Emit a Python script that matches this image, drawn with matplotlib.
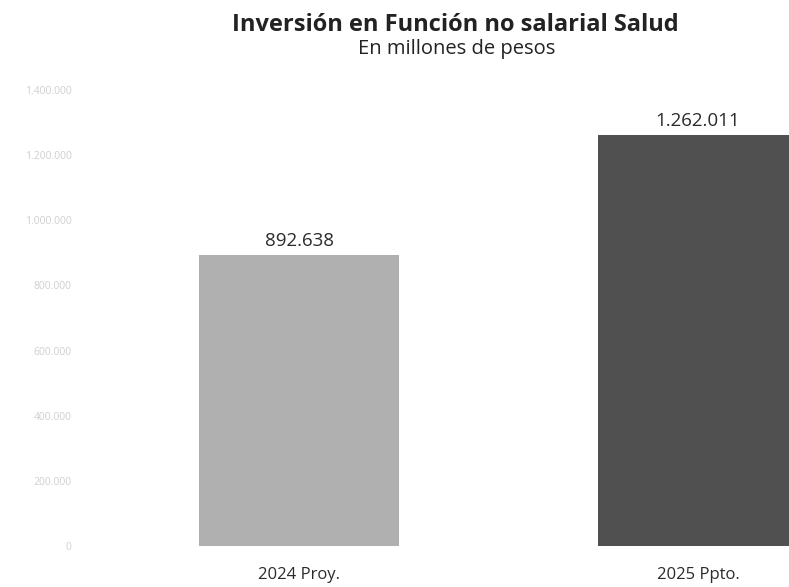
import matplotlib.pyplot as plt
import numpy as np

# Inversion no salarial en salud, millones de pesos
categorias = ["2024 Proy.", "2025 Ppto."]
valores = [892638, 1262011]
colores = ["#b0b0b0", "#505050"]
yticks = [0, 200000, 400000, 600000, 800000, 1000000, 1200000, 1400000]

def miles(v):
    return f"{v:,.0f}".replace(",", ".")

plt.rcParams['font.family'] = ['Open Sans', 'DejaVu Sans']

fig = plt.figure(figsize=(7.89, 5.87), dpi=100)
ax = fig.add_axes([80/789, 1 - 546/587, (789 - 80)/789, (546 - 90)/587])

x = np.arange(len(categorias))
bars = ax.bar(x, valores, width=0.5, color=colores)

for b, v in zip(bars, valores):
    ax.text(b.get_x() + b.get_width()/2, v + 15000, miles(v),
            ha="center", va="bottom", fontsize=13.5, color="#2b2b2b")

ax.set_xlim(-0.549, 1.228)
ax.set_ylim(0, 1400000)
ax.set_xticks(x)
ax.set_xticklabels(categorias, fontsize=12, color="#2b2b2b")
ax.set_yticks(yticks)
ax.set_yticklabels([miles(t) for t in yticks], fontsize=7.5, color="#cfcfcf")
ax.tick_params(axis="y", length=0, pad=6)
ax.tick_params(axis="x", length=0, pad=15)
for s in ax.spines.values():
    s.set_visible(False)

fig.text(455/789, 1 - 25/587, "Inversión en Función no salarial Salud",
         ha="center", va="center", fontsize=17, fontweight="bold", color="#222222")
fig.text(457/789, 1 - 49/587, "En millones de pesos",
         ha="center", va="center", fontsize=14.5, color="#222222")

fig.savefig("out.png", dpi=100)
